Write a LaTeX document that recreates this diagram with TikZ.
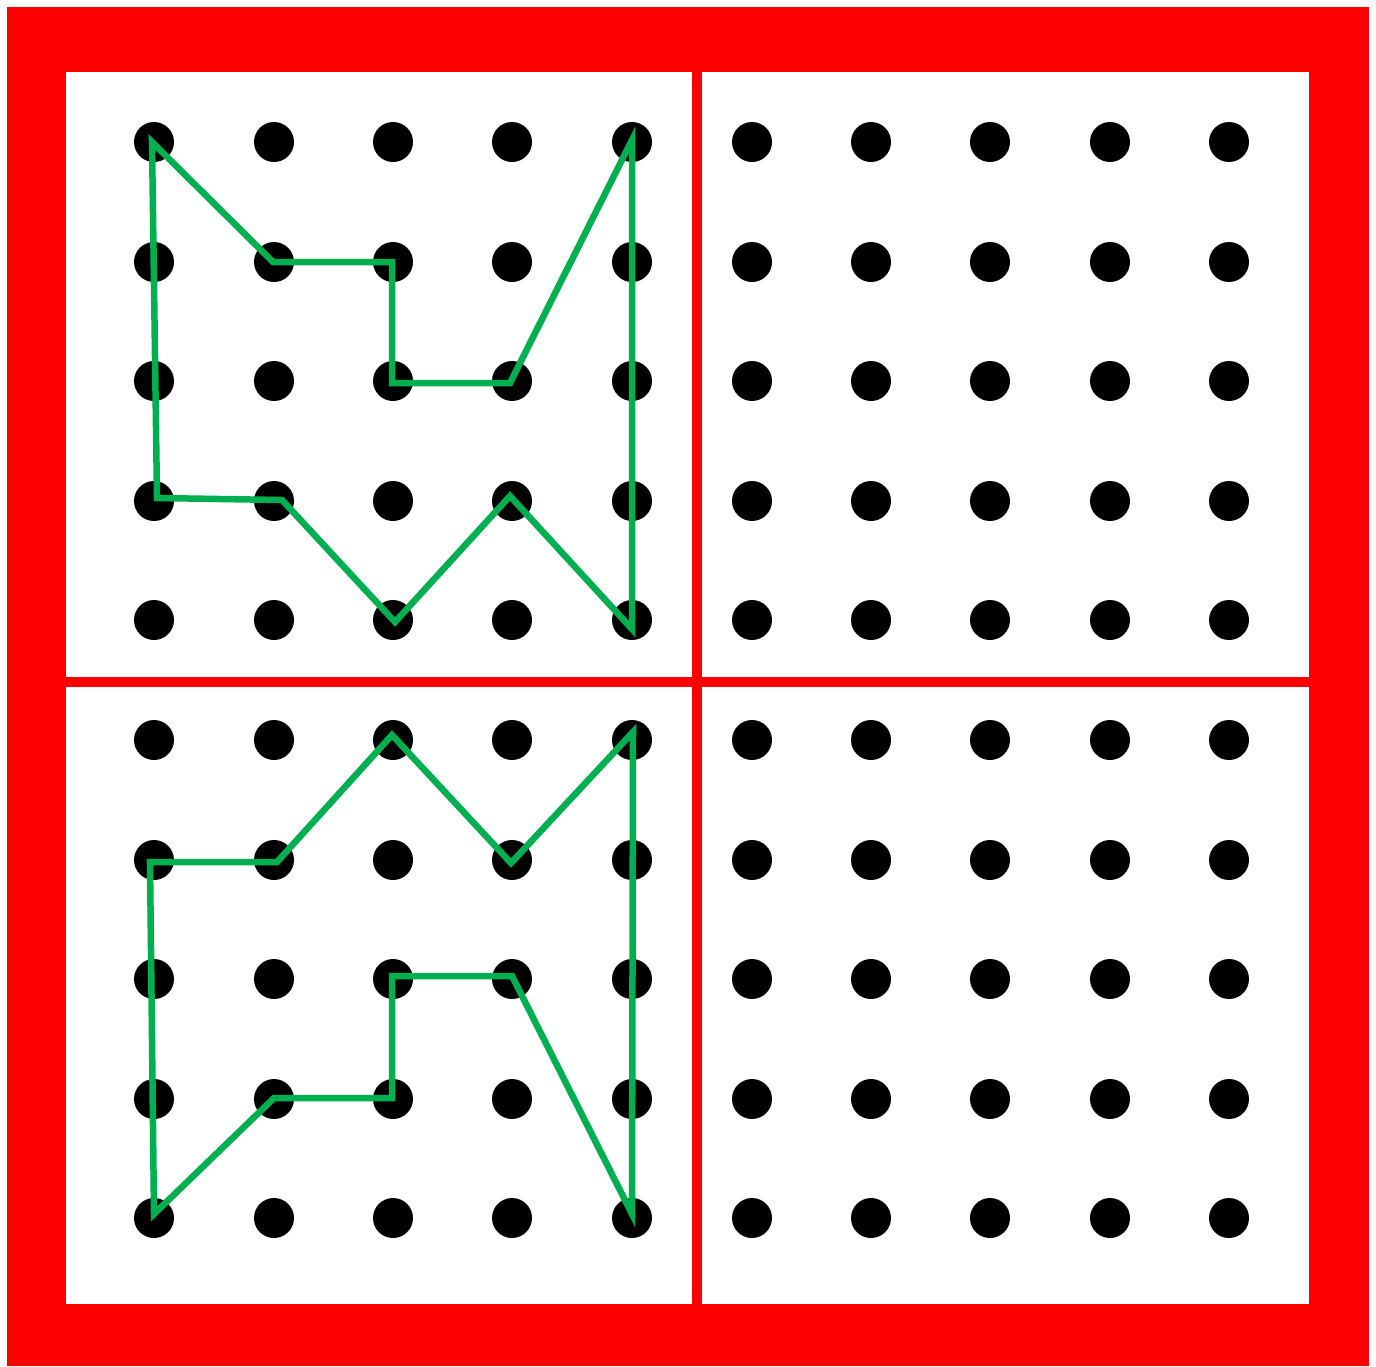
\documentclass[tikz,border=0pt]{standalone}
\definecolor{frame}{RGB}{255,0,0}
\definecolor{pathgreen}{RGB}{0,176,80}
\tikzset{
  peg/.style={circle,fill=black,draw=none,minimum size=40pt,inner sep=0pt},
  panel/.style={fill=white,draw=none},
  outline/.style={draw=pathgreen,line width=6.5pt,line join=miter}
}
\begin{document}
\begin{tikzpicture}[x=1pt,y=-1pt]
\useasboundingbox (0,0) rectangle (1376,1366);
\fill[white] (0,0) rectangle (1376,1366);
\fill[frame] (7,7) rectangle (1369,1366);
\fill[panel] (66,72) rectangle (692,677);
\fill[panel] (702,72) rectangle (1309,677);
\fill[panel] (66,687) rectangle (692,1304);
\fill[panel] (702,687) rectangle (1309,1304);
% pegs
\foreach \r/\y in {1/142,2/262,3/381,4/501,5/620}{
  \foreach \c/\x in {1/154,2/274,3/393,4/512,5/632}{
    \node[peg] (a\r\c) at (\x,\y) {};
    \node[peg] (b\r\c) at (\x,\y+598) {};
  }
  \foreach \c/\x in {1/752,2/871,3/990,4/1110,5/1229}{
    \node[peg] (c\r\c) at (\x,\y) {};
    \node[peg] (d\r\c) at (\x,\y+598) {};
  }
}
% top-left outline
\draw[outline]
  ([shift={(-2,0)}]a11.center) --
  ([shift={(-1,0)}]a22.center) --
  ([shift={(-1,0)}]a23.center) --
  ([shift={(-1,2)}]a33.center) --
  ([shift={(-2,2)}]a34.center) --
  ([shift={(0,-2)}]a15.center) --
  ([shift={(0,9)}]a55.center) --
  ([shift={(-2,-5)}]a44.center) --
  ([shift={(2,2)}]a53.center) --
  ([shift={(8,-1)}]a42.center) --
  ([shift={(3,-3)}]a41.center) -- cycle;
% bottom-left outline
\draw[outline]
  ([shift={(0,-4)}]b51.center) --
  ([shift={(0,-1)}]b42.center) --
  ([shift={(-1,-1)}]b43.center) --
  ([shift={(-1,-3)}]b33.center) --
  ([shift={(0,-3)}]b34.center) --
  ([shift={(0,-4)}]b55.center) --
  ([shift={(1,-8)}]b15.center) --
  ([shift={(-1,3)}]b24.center) --
  ([shift={(-1,-5)}]b13.center) --
  ([shift={(3,2)}]b22.center) --
  ([shift={(-4,2)}]b21.center) -- cycle;
\end{tikzpicture}
\end{document}
